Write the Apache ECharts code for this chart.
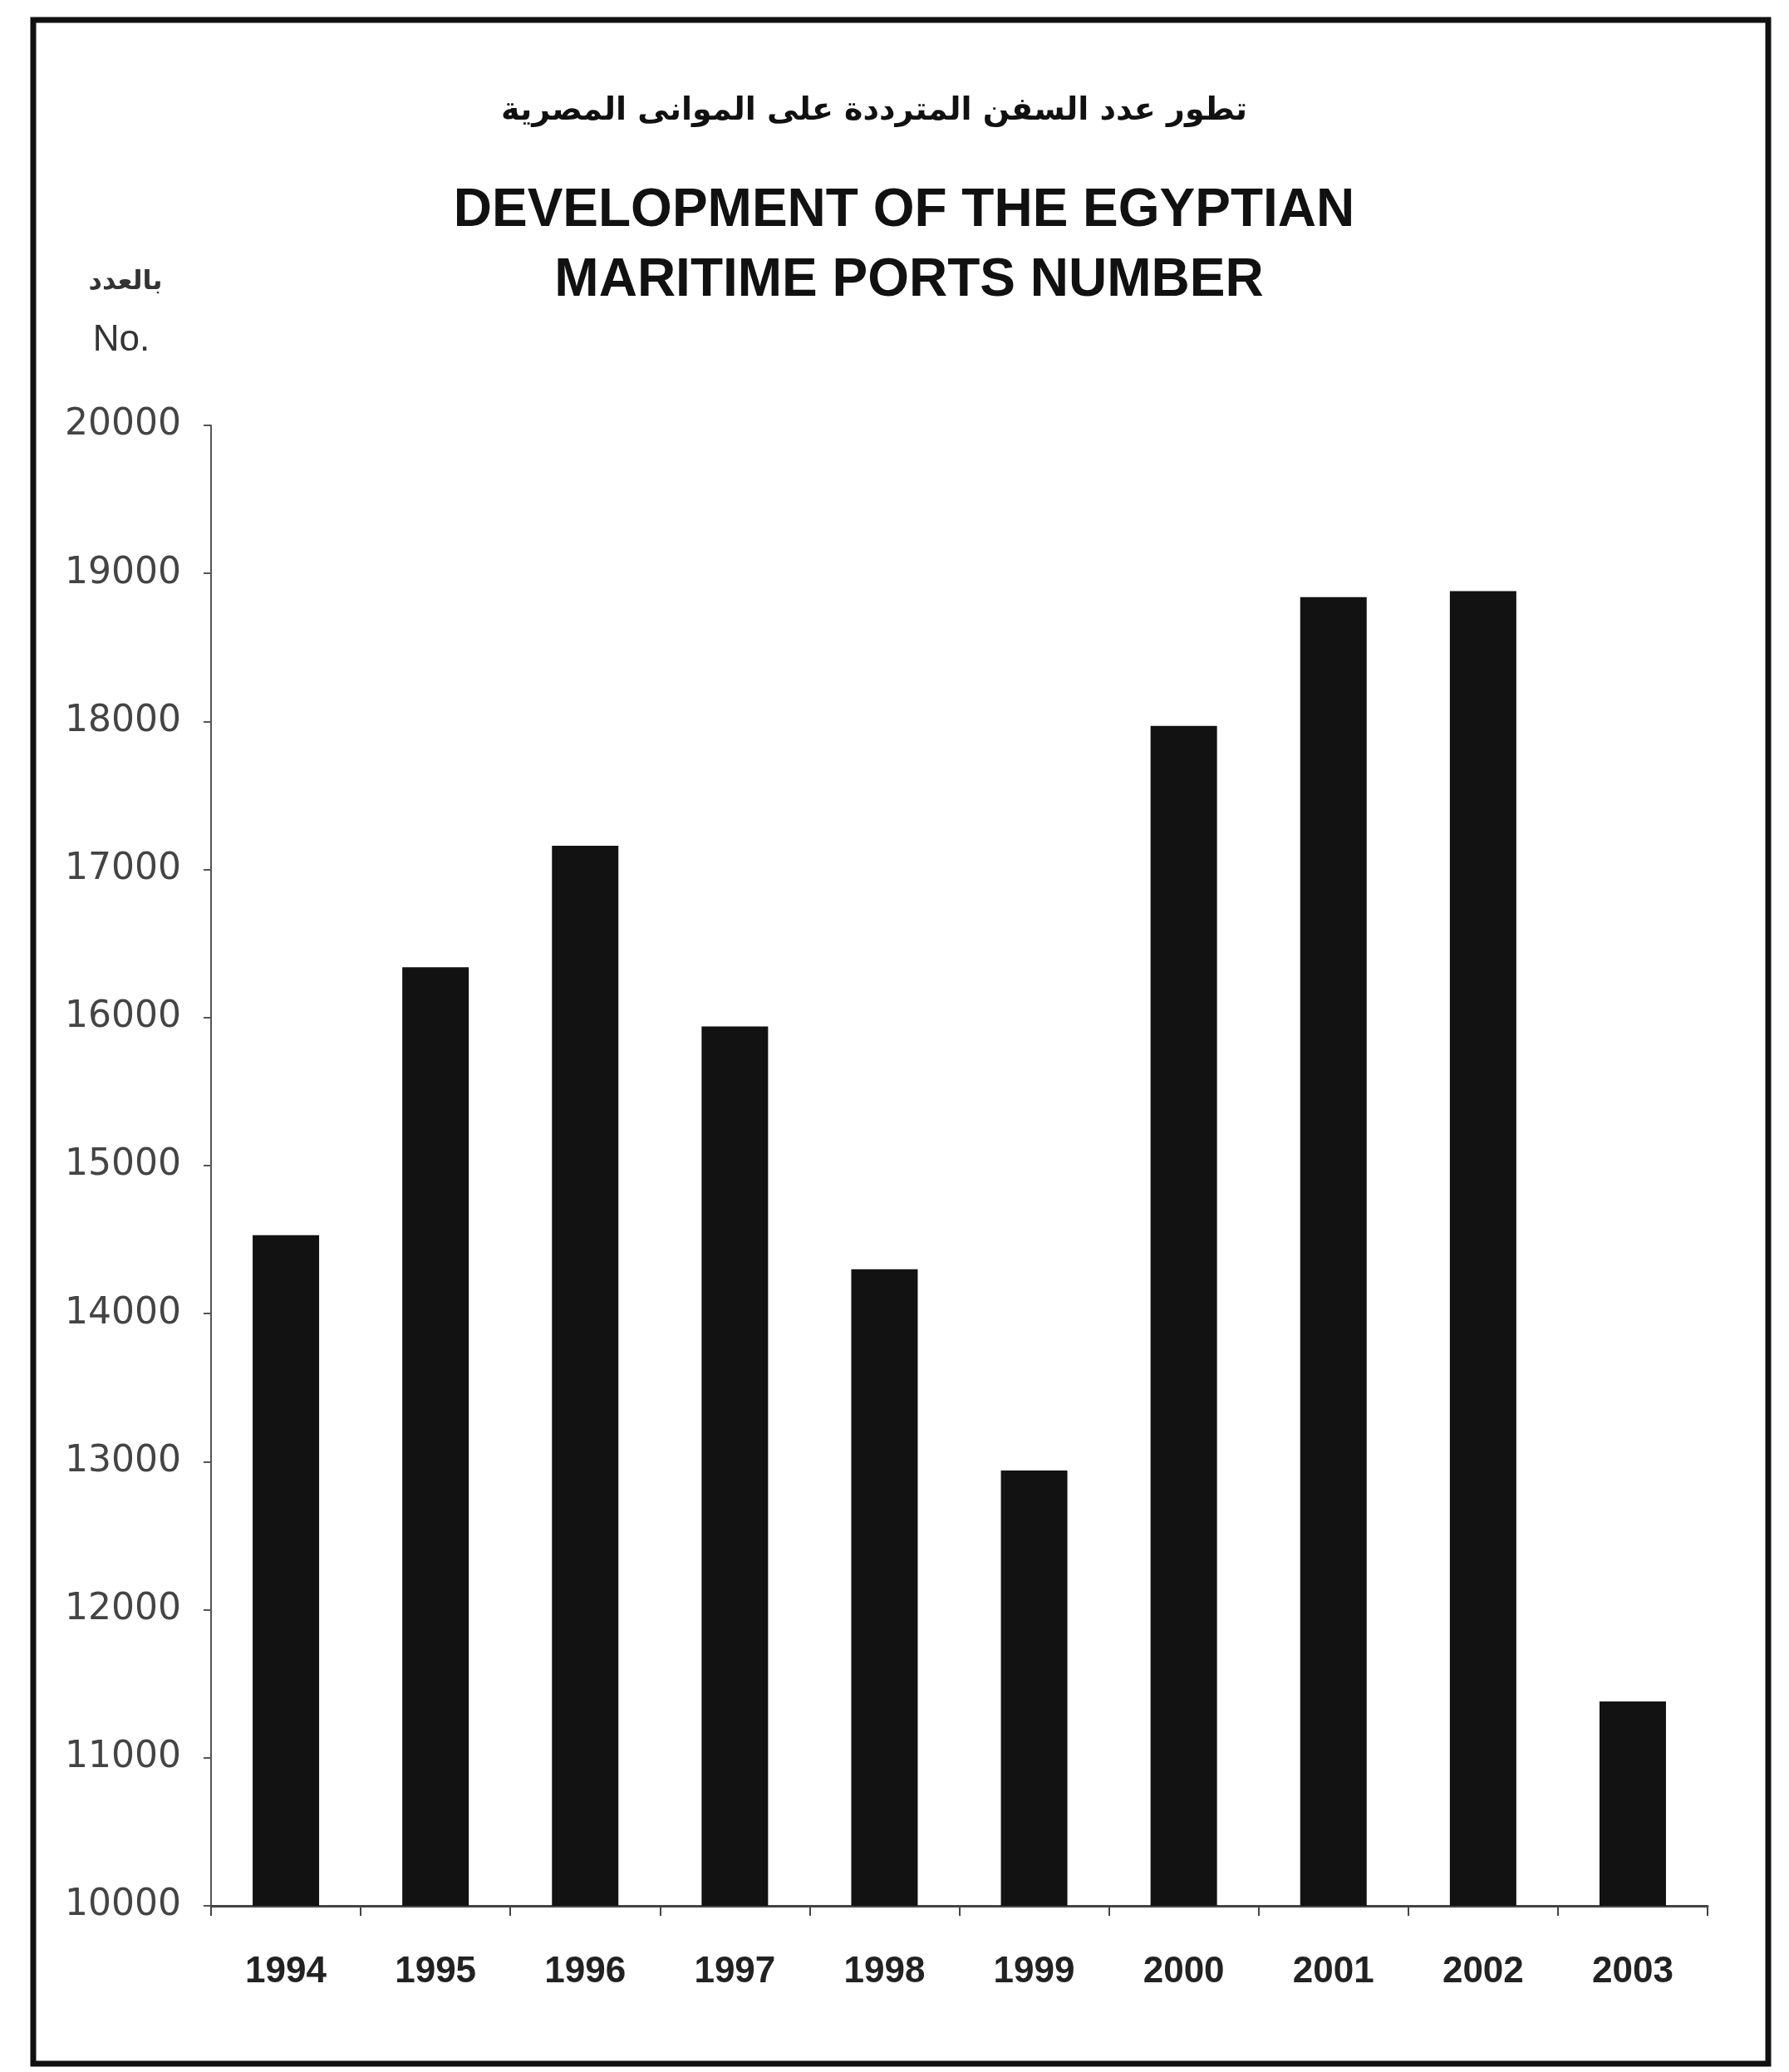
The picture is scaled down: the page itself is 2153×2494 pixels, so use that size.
<!DOCTYPE html>
<html>
<head>
<meta charset="utf-8">
<script src="https://cdn.jsdelivr.net/npm/echarts@6/dist/echarts.min.js"></script>
<style>
  html, body { margin: 0; padding: 0; background: #fff; }
  #chart { width: 2153px; height: 2494px; }
</style>
</head>
<body>
<div id="chart"></div>
<script>
// data
const years = ['1994', '1995', '1996', '1997', '1998', '1999', '2000', '2001', '2002', '2003'];
const ships = [14530, 16340, 17160, 15940, 14300, 12940, 17970, 18840, 18880, 11380];
const yMin = 10000;
const yMax = 20000;
const yStep = 1000;

const titleAr = 'تطور عدد السفن المترددة على الموانى المصرية';
const titleEn1 = 'DEVELOPMENT OF THE EGYPTIAN';
const titleEn2 = 'MARITIME PORTS NUMBER';
const unitAr = 'بالعدد';
const unitEn = 'No.';

const textColor = '#333';
let myChart = echarts.init(document.getElementById('chart'));

var option = {
  backgroundColor: '#fff',
  animation: false,
  graphic: [
    // outer frame
    {
      type: 'rect',
      shape: { x: 40, y: 24, width: 2088, height: 2460 },
      style: { fill: 'none', stroke: '#111', lineWidth: 7 }
    },
    {
      type: 'text', x: 1052, y: 134,
      style: { text: titleAr, font: 'bold 38px "DejaVu Sans"', fill: '#111', textAlign: 'center', textVerticalAlign: 'middle' }
    },
    {
      type: 'text', x: 1088, y: 254,
      style: { text: titleEn1, font: 'bold 64px "Liberation Sans", Arial', fill: '#111', textAlign: 'center', textVerticalAlign: 'middle' }
    },
    {
      type: 'text', x: 1094, y: 338,
      style: { text: titleEn2, font: 'bold 64px "Liberation Sans", Arial', fill: '#111', textAlign: 'center', textVerticalAlign: 'middle' }
    },
    {
      type: 'text', x: 151, y: 340,
      style: { text: unitAr, font: 'bold 32px "DejaVu Sans"', fill: textColor, textAlign: 'center', textVerticalAlign: 'middle' }
    },
    {
      type: 'text', x: 146, y: 410,
      style: { text: unitEn, font: '44px "Liberation Sans", Arial', fill: textColor, textAlign: 'center', textVerticalAlign: 'middle' }
    }
  ],
  grid: {
    left: 254,
    right: 98,
    top: 512,
    bottom: 200
  },
  xAxis: {
    type: 'category',
    data: years,
    axisLine: { lineStyle: { color: '#444', width: 3 } },
    axisTick: { show: true, length: 12, lineStyle: { color: '#444', width: 2 } },
    axisLabel: {
      margin: 58,
      color: '#222',
      fontSize: 44,
      fontWeight: 'bold',
      fontFamily: '"Liberation Sans Narrow", "Liberation Sans", Arial'
    }
  },
  yAxis: {
    type: 'value',
    min: yMin,
    max: yMax,
    interval: yStep,
    axisLine: { show: true, lineStyle: { color: '#555', width: 2 } },
    axisTick: { show: true, length: 9, lineStyle: { color: '#555', width: 2 } },
    splitLine: { show: false },
    axisLabel: {
      margin: 36,
      color: '#444',
      fontSize: 44,
      fontFamily: '"DejaVu Sans"',
      formatter: function (val) {
        return String(val);
      }
    }
  },
  series: [{
    name: 'ships',
    type: 'bar',
    data: ships,
    barWidth: 80,
    itemStyle: { color: '#121212' }
  }]
};

myChart.setOption(option);
window.addEventListener('resize', function () {
  myChart.resize();
});
</script>
</body>
</html>
